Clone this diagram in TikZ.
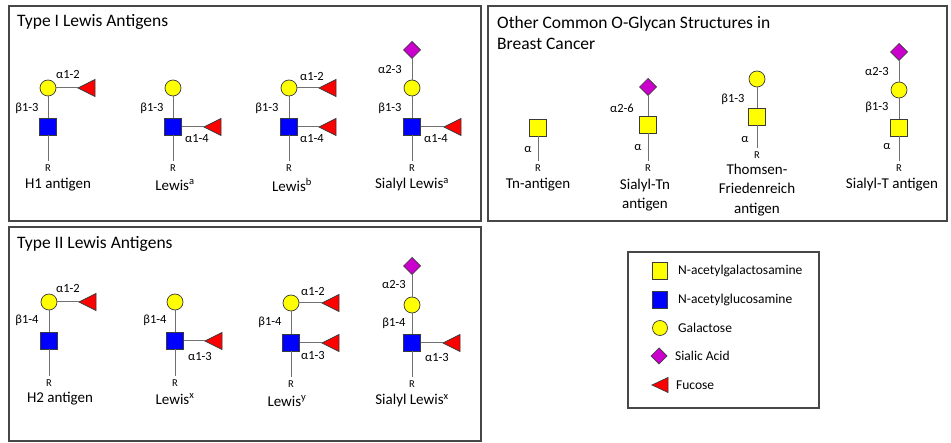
\documentclass[tikz,border=0pt]{standalone}
\usepackage{fontspec}
\setmainfont{Carlito}
\usetikzlibrary{shapes.geometric}
\definecolor{galY}{HTML}{FFFF00}
\definecolor{glcB}{HTML}{0000FF}
\definecolor{fucR}{HTML}{FF0000}
\definecolor{siaP}{HTML}{CC00CC}
\definecolor{edgeC}{HTML}{3A3A3A}
\definecolor{linkC}{HTML}{707070}
\definecolor{frameC}{HTML}{474747}
\tikzset{
 sugar/.style={draw=edgeC, line width=0.7pt, inner sep=0pt, outer sep=0pt},
 galnode/.style={sugar, circle, fill=galY, minimum size=16pt},
 galnacnode/.style={sugar, rectangle, fill=galY, minimum size=17pt},
 glcnacnode/.style={sugar, rectangle, fill=glcB, minimum size=17pt},
 sianode/.style={sugar, diamond, fill=siaP, minimum size=17pt},
 fucnode/.style={sugar, isosceles triangle, shape border rotate=180, isosceles triangle stretches, minimum width=17pt, minimum height=17pt, fill=fucR, anchor=apex},
 link/.style={draw=linkC, line width=1pt},
 rnode/.style={font=\fontsize{10.5}{11}\selectfont, inner sep=0pt, outer sep=4pt},
 lk/.style={font=\fontsize{12.5}{13}\selectfont, inner sep=0pt},
 gname/.style={font=\fontsize{15}{19.5}\selectfont, align=center, inner sep=0pt},
 title/.style={font=\fontsize{17.5}{21}\selectfont, anchor=west, align=left, inner sep=0pt},
 frame/.style={draw=frameC, line width=1.5pt},
 legtext/.style={font=\fontsize{13.5}{15}\selectfont, anchor=west, inner sep=0pt},
}
\begin{document}
\begin{tikzpicture}[x=1pt,y=-1pt]
\useasboundingbox (0,0) rectangle (951,443);
\fill[white] (0,0) rectangle (951,443);
% frames
\draw[frame] (9,6) rectangle (481,221);
\draw[frame] (9,227) rectangle (481,441);
\draw[frame] (488,6) rectangle (947,221);
\draw[frame] (628,252) rectangle (819,408);
% titles
\node[title] (t1) at (17,22) {Type I Lewis Antigens};
\node[title] (t2) at (17,244) {Type II Lewis Antigens};
\node[title] (t3) at (497,32.5) {Other Common O-Glycan Structures in\\Breast Cancer};

% ---------- Type I ----------
% H1
\node[galnode] (h1gal) at (48,88) {};
\node[glcnacnode] (h1glc) at (48,127) {};
\node[fucnode] (h1fuc) at (78,88) {};
\node[rnode] (h1r) at (48,168) {R};
\draw[link] (h1gal) -- (h1fuc);
\draw[link] (h1gal) -- (h1glc);
\draw[link] (h1glc) -- (h1r);
\node[lk] (h1l1) at (68,74) {α1-2};
\node[lk] (h1l2) at (27,108) {β1-3};
\node[gname] (h1n) at (58,185) {H1 antigen};
% Lewis a
\node[galnode] (leagal) at (173,88) {};
\node[glcnacnode] (leaglc) at (173,127) {};
\node[fucnode] (leafuc) at (204,127) {};
\node[rnode] (lear) at (173,168) {R};
\draw[link] (leagal) -- (leaglc);
\draw[link] (leaglc) -- (leafuc);
\draw[link] (leaglc) -- (lear);
\node[lk] (leal1) at (152,108) {β1-3};
\node[lk] (leal2) at (197,139) {α1-4};
\node[gname] (lean) at (175,185) {Lewis\textsuperscript{a}};
% Lewis b
\node[galnode] (lebgal) at (289,88) {};
\node[glcnacnode] (lebglc) at (289,127) {};
\node[fucnode] (lebfuc1) at (319,88) {};
\node[fucnode] (lebfuc2) at (319,127) {};
\node[rnode] (lebr) at (289,168) {R};
\draw[link] (lebgal) -- (lebglc);
\draw[link] (lebgal) -- (lebfuc1);
\draw[link] (lebglc) -- (lebfuc2);
\draw[link] (lebglc) -- (lebr);
\node[lk] (lebl1) at (312,76) {α1-2};
\node[lk] (lebl2) at (312,139) {α1-4};
\node[lk] (lebl3) at (267,108) {β1-3};
\node[gname] (lebn) at (292,185) {Lewis\textsuperscript{b}};
% Sialyl Lewis a
\node[sianode] (slasia) at (412,50) {};
\node[galnode] (slagal) at (412,88) {};
\node[glcnacnode] (slaglc) at (412,127) {};
\node[fucnode] (slafuc) at (444,127) {};
\node[rnode] (slar) at (412,168) {R};
\draw[link] (slasia) -- (slagal);
\draw[link] (slagal) -- (slaglc);
\draw[link] (slaglc) -- (slafuc);
\draw[link] (slaglc) -- (slar);
\node[lk] (slal1) at (390,69) {α2-3};
\node[lk] (slal2) at (390,108) {β1-3};
\node[lk] (slal3) at (436,139) {α1-4};
\node[gname] (slan) at (412,185) {Sialyl Lewis\textsuperscript{a}};

% ---------- Other O-glycans ----------
% Tn
\node[galnacnode] (tnsq) at (538,128) {};
\node[rnode] (tnr) at (538,168) {R};
\draw[link] (tnsq) -- (tnr);
\node[lk] (tnl) at (528,150) {α};
\node[gname] (tnn) at (538,185) {Tn-antigen};
% Sialyl-Tn
\node[sianode] (stnsia) at (648,87) {};
\node[galnacnode] (stnsq) at (648,125) {};
\node[rnode] (stnr) at (648,168) {R};
\draw[link] (stnsia) -- (stnsq);
\draw[link] (stnsq) -- (stnr);
\node[lk] (stnl1) at (622,108) {α2-6};
\node[lk] (stnl2) at (638,148) {α};
\node[gname] (stnn) at (645,195) {Sialyl-Tn\\antigen};
% Thomsen-Friedenreich
\node[galnode] (tfgal) at (757,79) {};
\node[galnacnode] (tfsq) at (757,117) {};
\node[rnode] (tfr) at (757,155) {R};
\draw[link] (tfgal) -- (tfsq);
\draw[link] (tfsq) -- (tfr);
\node[lk] (tfl1) at (733,99) {β1-3};
\node[lk] (tfl2) at (745,140) {α};
\node[gname] (tfn) at (757,190) {Thomsen-\\Friedenreich\\antigen};
% Sialyl-T
\node[sianode] (stsia) at (899,52) {};
\node[galnode] (stgal) at (899,90) {};
\node[galnacnode] (stsq) at (899,128) {};
\node[rnode] (str) at (899,168) {R};
\draw[link] (stsia) -- (stgal);
\draw[link] (stgal) -- (stsq);
\draw[link] (stsq) -- (str);
\node[lk] (stl1) at (877,71) {α2-3};
\node[lk] (stl2) at (877,107) {β1-3};
\node[lk] (stl3) at (887,147) {α};
\node[gname] (stn) at (892,185) {Sialyl-T antigen};

% ---------- Type II ----------
% H2
\node[galnode] (h2gal) at (49,302) {};
\node[glcnacnode] (h2glc) at (49,341) {};
\node[fucnode] (h2fuc) at (79,302) {};
\node[rnode] (h2r) at (49,383) {R};
\draw[link] (h2gal) -- (h2fuc);
\draw[link] (h2gal) -- (h2glc);
\draw[link] (h2glc) -- (h2r);
\node[lk] (h2l1) at (68,288) {α1-2};
\node[lk] (h2l2) at (27,320) {β1-4};
\node[gname] (h2n) at (60,399) {H2 antigen};
% Lewis x
\node[galnode] (lexgal) at (175,302) {};
\node[glcnacnode] (lexglc) at (175,341) {};
\node[fucnode] (lexfuc) at (205,341) {};
\node[rnode] (lexr) at (175,383) {R};
\draw[link] (lexgal) -- (lexglc);
\draw[link] (lexglc) -- (lexfuc);
\draw[link] (lexglc) -- (lexr);
\node[lk] (lexl1) at (155,320) {β1-4};
\node[lk] (lexl2) at (200,356) {α1-3};
\node[gname] (lexn) at (175,399) {Lewis\textsuperscript{x}};
% Lewis y
\node[galnode] (leygal) at (291,303) {};
\node[glcnacnode] (leyglc) at (291,343) {};
\node[fucnode] (leyfuc1) at (322,303) {};
\node[fucnode] (leyfuc2) at (322,343) {};
\node[rnode] (leyr) at (291,384) {R};
\draw[link] (leygal) -- (leyglc);
\draw[link] (leygal) -- (leyfuc1);
\draw[link] (leyglc) -- (leyfuc2);
\draw[link] (leyglc) -- (leyr);
\node[lk] (leyl1) at (313,291) {α1-2};
\node[lk] (leyl2) at (313,355) {α1-3};
\node[lk] (leyl3) at (270,322) {β1-4};
\node[gname] (leyn) at (287,401) {Lewis\textsuperscript{y}};
% Sialyl Lewis x
\node[sianode] (slxsia) at (412,266) {};
\node[galnode] (slxgal) at (412,305) {};
\node[glcnacnode] (slxglc) at (412,343) {};
\node[fucnode] (slxfuc) at (443,343) {};
\node[rnode] (slxr) at (412,384) {R};
\draw[link] (slxsia) -- (slxgal);
\draw[link] (slxgal) -- (slxglc);
\draw[link] (slxglc) -- (slxfuc);
\draw[link] (slxglc) -- (slxr);
\node[lk] (slxl1) at (394,284) {α2-3};
\node[lk] (slxl2) at (394,323) {β1-4};
\node[lk] (slxl3) at (437,357) {α1-3};
\node[gname] (slxn) at (412,401) {Sialyl Lewis\textsuperscript{x}};

% ---------- Legend ----------
\node[galnacnode, minimum width=15pt, minimum height=17pt] (lg1) at (660,271) {};
\node[legtext] (lt1) at (678,271) {N-acetylgalactosamine};
\node[glcnacnode, minimum width=15pt, minimum height=17pt] (lg2) at (660,300) {};
\node[legtext] (lt2) at (678,300) {N-acetylglucosamine};
\node[galnode, minimum size=15pt] (lg3) at (660,328) {};
\node[legtext] (lt3) at (678,328) {Galactose};
\node[sianode, minimum size=16pt] (lg4) at (659,356) {};
\node[legtext] (lt4) at (675,356) {Sialic Acid};
\node[fucnode, minimum width=15pt, minimum height=16pt] (lg5) at (652,385) {};
\node[legtext] (lt5) at (676,385) {Fucose};
\end{tikzpicture}
\end{document}
